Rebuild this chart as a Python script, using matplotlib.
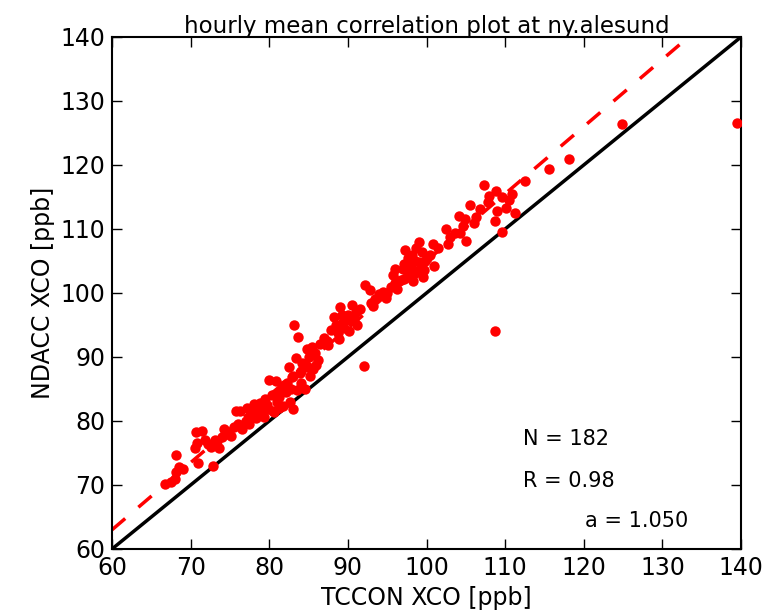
import numpy as np
import matplotlib
matplotlib.use("Agg")
import matplotlib.pyplot as plt

# hourly mean XCO pairs (TCCON, NDACC)
tccon = [66.8, 67.5, 68.0, 68.2, 68.5, 68.1, 70.6, 70.8, 70.7, 71.0,
         71.5, 72.2, 72.6, 72.9, 73.1, 73.4, 73.6, 74.0, 74.3, 74.8,
         75.1, 75.5, 75.8, 76.3, 76.5,
         77.0, 77.2, 77.5, 77.8, 78.0, 78.3, 78.5, 78.8, 79.0, 79.3,
         79.5, 79.7, 80.0, 80.3, 80.5, 80.8, 81.0, 81.3, 81.7, 81.9,
         82.1, 82.3, 82.5, 82.6, 82.8, 83.0, 83.0, 83.1, 83.4, 83.5,
         83.6, 83.9, 84.1, 84.2, 84.5, 84.8, 85.0, 85.2, 85.4, 85.6,
         86.0,
         86.5, 87.0, 87.3, 87.8, 88.2, 88.5, 88.7, 89.0, 89.2, 89.5,
         89.7, 90.0, 90.3, 90.5, 90.8, 91.0, 91.2, 92.0, 92.2, 92.8,
         93.0, 93.5, 94.0, 94.5, 95.0, 95.5, 96.0, 96.0, 96.5,
         96.8, 97.0, 97.2, 97.3, 97.5, 97.7, 97.8, 98.0, 98.2, 98.3,
         98.5, 98.7, 98.9, 99.0, 99.1, 99.5, 99.8, 100.0, 100.8, 101.5,
         102.5, 102.7, 103.6, 104.1, 104.3, 104.7, 105.5, 106.8, 107.3, 108.0,
         108.7, 108.7, 108.9, 109.6, 109.6, 110.1, 110.9, 111.3, 112.5, 115.6,
         118.1, 124.9, 139.5,
         69.0, 71.8, 74.5, 76.0, 78.1, 79.8, 80.9, 81.5, 82.0, 84.0,
         84.9, 86.2, 87.5, 88.9, 90.1, 91.6, 93.2, 94.8, 96.2, 97.1,
         97.9, 98.6, 99.4, 100.4, 101.0, 103.0, 105.0, 106.0, 107.8, 109.0,
         74.9, 77.4, 79.1, 80.6, 81.2, 82.9, 85.8, 89.4, 95.7, 99.7,
         104.9, 106.3, 110.5]
ndacc = [70.2, 70.4, 70.9, 72.0, 72.8, 74.7, 75.8, 76.5, 78.3, 73.4,
         78.4, 76.4, 76.0, 72.9, 77.1, 76.8, 75.8, 77.5, 78.7, 78.0,
         77.6, 79.0, 81.5, 81.6, 78.8,
         80.0, 82.0, 80.8, 81.5, 82.2, 80.5, 81.0, 82.8, 81.2, 80.6,
         83.4, 82.5, 86.4, 84.0, 81.5, 86.3, 83.0, 82.0, 82.4, 85.7,
         84.5, 86.0, 88.5, 83.0, 85.0, 81.9, 87.0, 95.0, 89.8, 84.8,
         93.2, 87.5, 86.0, 89.0, 85.0, 91.2, 90.0, 87.0, 91.5, 88.2,
         88.7,
         92.0, 93.0, 92.5, 94.2, 96.3, 95.0, 93.8, 97.8, 96.5, 94.5,
         96.0, 96.6, 95.8, 98.2, 96.0, 97.0, 95.0, 88.6, 101.2, 100.5,
         98.5, 99.0, 99.8, 100.2, 100.0, 101.0, 101.5, 103.8, 101.8,
         102.0, 103.8, 104.5, 106.7, 102.5, 105.5, 103.0, 104.0, 106.0, 101.8,
         105.0, 107.0, 103.5, 104.8, 108.0, 102.5, 105.0, 105.5, 107.7, 107.0,
         110.0, 107.6, 109.4, 112.0, 109.3, 110.5, 113.7, 113.2, 116.9, 115.1,
         111.3, 94.1, 116.0, 115.0, 109.5, 113.3, 115.5, 112.5, 117.5, 119.4,
         120.9, 126.4, 126.6,
         72.5, 77.0, 78.2, 79.5, 82.6, 81.8, 84.2, 84.6, 85.3, 87.8,
         88.4, 89.5, 91.8, 92.8, 94.0, 97.5, 98.0, 99.2, 100.6, 102.2,
         104.6, 103.2, 106.4, 106.0, 104.2, 108.8, 108.2, 111.0, 114.2, 112.8,
         77.9, 79.6, 82.3, 81.4, 83.8, 86.8, 90.6, 95.4, 102.8, 103.6,
         111.6, 111.9, 114.6]

n_obs = 182
r_val = 0.98
slope = 1.050

fig = plt.figure(figsize=(7.66, 6.13), dpi=100)
ax = fig.add_axes([112 / 766, 64 / 613, 629 / 766, 512 / 613])

xx = np.array([60, 140])
ax.plot(xx, xx, 'k-', lw=2.5, zorder=2)
ax.plot(xx, slope * xx, 'r--', lw=2.5, dashes=(5, 5), zorder=2)
ax.plot(tccon, ndacc, 'o', color='red', mec='none', ms=7.5, zorder=3)

ax.set_xlim(60, 140)
ax.set_ylim(60, 140)
ax.set_xticks(np.arange(60, 141, 10))
ax.set_yticks(np.arange(60, 141, 10))
ax.tick_params(direction='in', top=True, right=True, length=7, width=1,
               labelsize=17, pad=5)
for s in ax.spines.values():
    s.set_linewidth(1.5)

ax.set_title('hourly mean correlation plot at ny.alesund', fontsize=16.5, pad=3)
ax.set_xlabel('TCCON XCO [ppb]', fontsize=17, labelpad=4)
ax.set_ylabel('NDACC XCO [ppb]', fontsize=17, labelpad=4)

ax.text(112.3, 77.2, 'N = %d' % n_obs, fontsize=15, va='center')
ax.text(112.3, 70.6, 'R = %.2f' % r_val, fontsize=15, va='center')
ax.text(120.2, 64.4, 'a = %.3f' % slope, fontsize=15, va='center')

fig.savefig('out.png', dpi=100)
